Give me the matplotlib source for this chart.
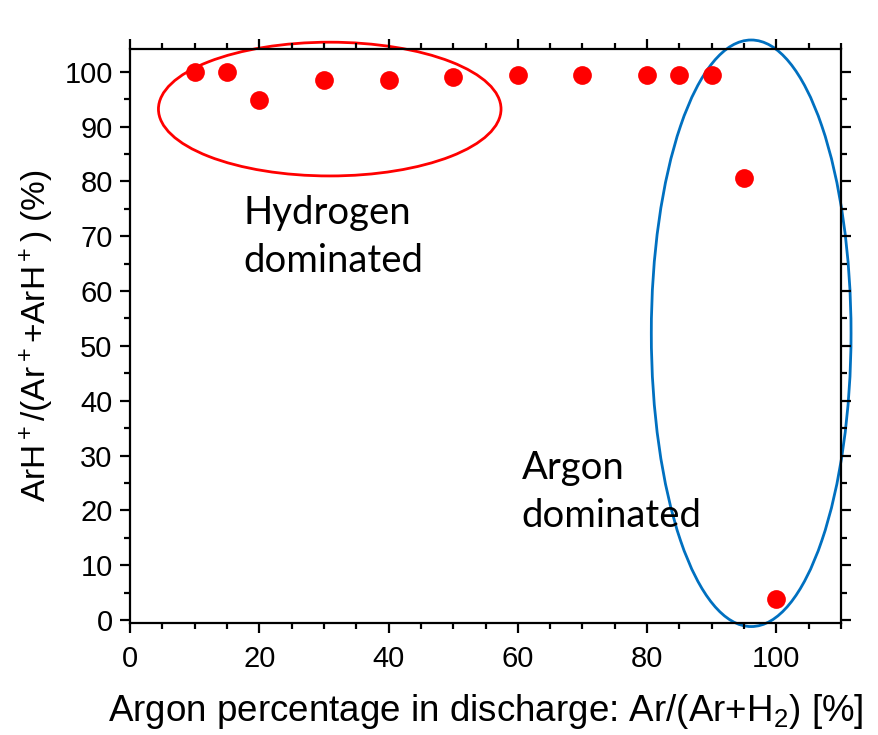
import numpy as np
import matplotlib.pyplot as plt
from matplotlib.patches import Ellipse

ar_percent = [10, 15, 20, 30, 40, 50, 60, 70, 80, 85, 90, 95, 100]
arh_ratio = [100.0, 100.0, 94.8, 98.5, 98.5, 99.1, 99.4, 99.4, 99.5, 99.4, 99.4, 80.6, 3.8]

plt.rcParams['font.family'] = ['Liberation Sans', 'DejaVu Sans']
plt.rcParams['mathtext.default'] = 'regular'

fig = plt.figure(figsize=(8.79, 7.35), dpi=100)
ax = fig.add_axes([0.1479, 0.1524, 0.8089, 0.7805])

ax.plot(ar_percent, arh_ratio, 'o', color='#ff0000', markersize=13.5, markeredgewidth=0)

ax.set_xlim(0, 110)
ax.set_ylim(-0.55, 104.1)
ax.set_xticks(np.arange(0, 101, 20))
ax.set_xticks(np.arange(0, 111, 5), minor=True)
ax.set_yticks(np.arange(0, 101, 10))
ax.set_yticks(np.arange(0, 104, 5), minor=True)

for s in ax.spines.values():
    s.set_linewidth(1.6)
ax.tick_params(which='both', direction='out', top=True, right=True, width=1.6, labelsize=21)
ax.tick_params(axis='x', pad=8)
ax.tick_params(axis='y', pad=5)
ax.tick_params(which='major', length=7.5)
ax.tick_params(which='minor', length=4)

ax.set_xlabel('Argon percentage in discharge: Ar/(Ar+H$_2$) [%]', fontsize=26.5, labelpad=14)
ax.set_ylabel('ArH$^+$/(Ar$^+$+ArH$^+$) (%)', fontsize=24, labelpad=6)

# circled regions
ax.add_patch(Ellipse((30.9, 93.2), 53.0, 24.4, fill=False, edgecolor='#ff0000', linewidth=2, clip_on=False))
ax.add_patch(Ellipse((96.1, 52.3), 30.9, 107.0, fill=False, edgecolor='#0070c0', linewidth=2, clip_on=False))

ax.text(17.5, 69.9, 'Hydrogen\ndominated', fontsize=27.5, family=['Lato', 'DejaVu Sans'],
        ha='left', va='center', linespacing=1.4)
ax.text(60.6, 23.3, 'Argon\ndominated', fontsize=27.5, family=['Lato', 'DejaVu Sans'],
        ha='left', va='center', linespacing=1.4)

fig.savefig('out.png', dpi=100)
